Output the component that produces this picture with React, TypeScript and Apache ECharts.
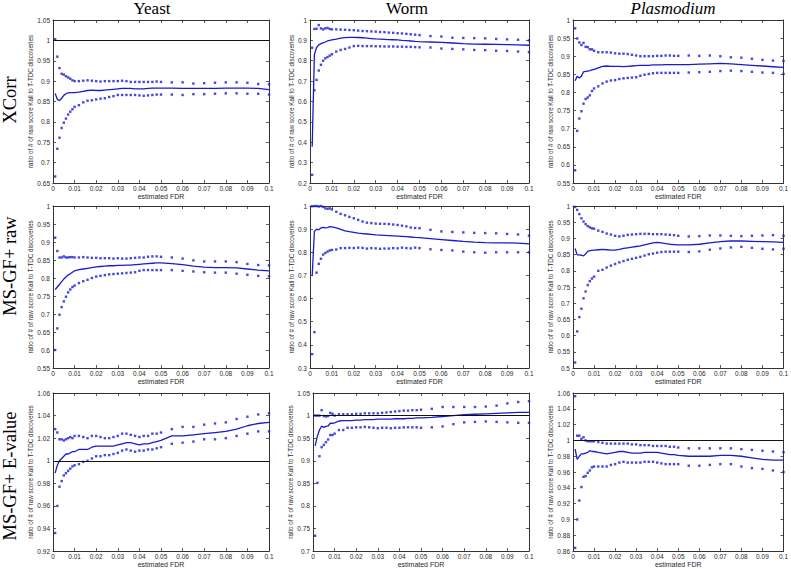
import React, { useEffect, useRef } from "react";
import * as echarts from "echarts";

// estimated FDR sample points (shared by all panels)
const fdr = [0.001,0.002,0.003,0.004,0.005,0.006,0.007,0.008,0.009,0.010,0.012,0.014,0.016,0.018,0.020,0.022,0.024,0.026,0.028,0.030,0.032,0.034,0.036,0.038,0.040,0.042,0.044,0.046,0.048,0.050,0.055,0.060,0.065,0.070,0.075,0.080,0.085,0.090,0.095,0.100];

const columnTitles = ["Yeast", "Worm", "Plasmodium"];
const rowTitles = ["XCorr", "MS-GF+ raw", "MS-GF+ E-value"];
const xTicks = { min: 0, max: 0.1, step: 0.01 };
const yAxisName = "ratio of # of raw score Kall to T-TDC discoveries";
const xAxisName = "estimated FDR";

// Yeast / XCorr
const yeastXcorrUpper = [1.003,0.960,0.932,0.918,0.916,0.912,0.909,0.906,0.902,0.900, 0.900,0.901,0.902,0.901,0.900,0.899,0.900,0.900,0.900,0.900,0.901,0.900,0.898,0.898,0.898,0.898,0.898,0.898,0.899,0.898, 0.897,0.897,0.894,0.895,0.896,0.897,0.897,0.896,0.893,0.892];
const yeastXcorrLower = [0.666,0.734,0.761,0.785,0.798,0.808,0.818,0.825,0.831,0.837, 0.841,0.848,0.852,0.853,0.855,0.857,0.858,0.861,0.863,0.866,0.866,0.866,0.866,0.866,0.865,0.864,0.865,0.866,0.867,0.867, 0.867,0.866,0.868,0.868,0.869,0.870,0.870,0.869,0.869,0.867];
const yeastXcorrMedian = [0.870,0.855,0.852,0.858,0.865,0.869,0.871,0.872,0.872,0.872, 0.873,0.875,0.877,0.878,0.877,0.877,0.878,0.879,0.880,0.881,0.882,0.882,0.882,0.881,0.881,0.881,0.882,0.883,0.883,0.883, 0.883,0.882,0.882,0.882,0.882,0.883,0.883,0.883,0.882,0.879];

// Worm / XCorr
const wormXcorrUpper = [0.864,0.956,0.957,0.975,0.959,0.954,0.959,0.961,0.956,0.954, 0.954,0.953,0.952,0.951,0.950,0.948,0.946,0.945,0.944,0.943,0.941,0.940,0.938,0.937,0.935,0.934,0.932,0.930,0.928,0.926, 0.921,0.919,0.913,0.912,0.911,0.910,0.907,0.905,0.903,0.900];
const wormXcorrLower = [0.240,0.655,0.706,0.752,0.780,0.800,0.812,0.818,0.825,0.832, 0.845,0.853,0.858,0.865,0.872,0.873,0.872,0.872,0.872,0.871,0.871,0.870,0.870,0.870,0.869,0.869,0.868,0.868,0.867,0.866, 0.865,0.860,0.858,0.856,0.853,0.852,0.849,0.848,0.845,0.842];
const wormXcorrMedian = [0.378,0.830,0.865,0.878,0.884,0.888,0.892,0.897,0.900,0.902, 0.906,0.911,0.913,0.915,0.915,0.914,0.913,0.911,0.909,0.907,0.906,0.905,0.904,0.903,0.902,0.900,0.899,0.897,0.895,0.894, 0.892,0.890,0.887,0.884,0.882,0.881,0.880,0.879,0.878,0.876];

// Plasmodium / XCorr
const plasXcorrUpper = [0.977,0.949,0.938,0.931,0.937,0.926,0.925,0.919,0.919,0.915, 0.911,0.911,0.911,0.910,0.908,0.907,0.907,0.906,0.904,0.902,0.900,0.900,0.900,0.900,0.901,0.901,0.902,0.902,0.901,0.901, 0.902,0.901,0.902,0.900,0.897,0.896,0.893,0.890,0.888,0.887];
const plasXcorrLower = [0.585,0.694,0.728,0.748,0.769,0.782,0.786,0.792,0.804,0.811, 0.817,0.825,0.830,0.833,0.834,0.837,0.839,0.840,0.841,0.842,0.846,0.849,0.851,0.853,0.854,0.854,0.854,0.854,0.854,0.854, 0.855,0.856,0.857,0.859,0.860,0.859,0.857,0.855,0.854,0.851];
const plasXcorrMedian = [0.832,0.845,0.840,0.845,0.857,0.858,0.859,0.860,0.862,0.864, 0.868,0.872,0.873,0.872,0.872,0.872,0.871,0.872,0.873,0.874,0.875,0.875,0.875,0.876,0.876,0.876,0.877,0.877,0.877,0.877, 0.877,0.878,0.879,0.880,0.879,0.877,0.875,0.873,0.871,0.869];

// Yeast / MS-GF+ raw
const yeastRawUpper = [0.912,0.875,0.857,0.857,0.860,0.857,0.857,0.858,0.858,0.857, 0.857,0.858,0.857,0.856,0.856,0.855,0.855,0.855,0.854,0.855,0.854,0.854,0.855,0.856,0.857,0.857,0.859,0.860,0.860,0.859, 0.857,0.854,0.849,0.846,0.846,0.846,0.844,0.839,0.836,0.835];
const yeastRawLower = [0.600,0.660,0.698,0.719,0.735,0.748,0.760,0.768,0.775,0.779, 0.786,0.791,0.795,0.800,0.804,0.806,0.808,0.810,0.811,0.812,0.813,0.814,0.815,0.816,0.820,0.822,0.822,0.822,0.822,0.822, 0.822,0.820,0.818,0.816,0.815,0.815,0.812,0.809,0.806,0.805];
const yeastRawMedian = [0.768,0.775,0.782,0.790,0.797,0.803,0.808,0.812,0.816,0.820, 0.823,0.825,0.827,0.829,0.831,0.832,0.833,0.834,0.834,0.835,0.835,0.836,0.836,0.837,0.838,0.839,0.840,0.841,0.842,0.842, 0.840,0.837,0.833,0.830,0.829,0.829,0.828,0.825,0.822,0.820];

// Worm / MS-GF+ raw
const wormRawUpper = [0.999,1.000,1.000,0.998,1.000,0.996,0.990,0.988,0.990,0.985, 0.975,0.966,0.960,0.953,0.947,0.940,0.933,0.928,0.926,0.924,0.923,0.923,0.922,0.920,0.918,0.915,0.912,0.907,0.905,0.904, 0.897,0.890,0.888,0.886,0.884,0.883,0.882,0.879,0.877,0.872];
const wormRawLower = [0.360,0.455,0.712,0.750,0.772,0.790,0.797,0.803,0.808,0.810, 0.812,0.818,0.818,0.819,0.818,0.820,0.819,0.816,0.818,0.817,0.815,0.816,0.816,0.818,0.817,0.820,0.818,0.817,0.820,0.818, 0.813,0.810,0.808,0.803,0.800,0.798,0.800,0.800,0.800,0.800];
const wormRawMedian = [0.698,0.890,0.900,0.897,0.905,0.908,0.905,0.907,0.911,0.910, 0.905,0.899,0.893,0.889,0.886,0.883,0.881,0.879,0.877,0.875,0.874,0.873,0.872,0.871,0.870,0.869,0.868,0.866,0.864,0.863, 0.859,0.855,0.851,0.847,0.844,0.842,0.841,0.841,0.840,0.836];

// Plasmodium / MS-GF+ raw
const plasRawUpper = [0.997,0.988,0.975,0.962,0.952,0.944,0.938,0.934,0.931,0.930, 0.924,0.920,0.915,0.912,0.908,0.906,0.908,0.911,0.912,0.913,0.914,0.914,0.914,0.913,0.913,0.913,0.912,0.911,0.910,0.908, 0.906,0.907,0.909,0.909,0.908,0.907,0.908,0.909,0.910,0.908];
const plasRawLower = [0.517,0.613,0.657,0.683,0.715,0.736,0.756,0.768,0.776,0.782, 0.800,0.803,0.810,0.816,0.821,0.826,0.830,0.834,0.837,0.840,0.843,0.847,0.851,0.853,0.856,0.858,0.859,0.859,0.859,0.859, 0.858,0.860,0.865,0.869,0.872,0.874,0.871,0.868,0.866,0.868];
const plasRawMedian = [0.869,0.849,0.849,0.848,0.846,0.852,0.860,0.862,0.863,0.864, 0.865,0.866,0.865,0.864,0.864,0.866,0.869,0.871,0.873,0.875,0.877,0.880,0.883,0.886,0.888,0.886,0.884,0.882,0.881,0.880, 0.880,0.882,0.886,0.890,0.892,0.892,0.891,0.890,0.889,0.888];

// Yeast / MS-GF+ E-value
const yeastEvUpper = [1.028,1.025,1.019,1.019,1.018,1.019,1.020,1.021,1.020,1.022, 1.022,1.021,1.020,1.022,1.022,1.021,1.020,1.020,1.021,1.022,1.024,1.024,1.023,1.022,1.021,1.022,1.022,1.024,1.024,1.025, 1.028,1.030,1.030,1.032,1.033,1.034,1.037,1.039,1.041,1.042];
const yeastEvLower = [0.936,0.960,0.977,0.982,0.987,0.989,0.991,0.993,0.995,0.996, 0.997,0.999,1.000,1.002,1.004,1.004,1.005,1.005,1.006,1.007,1.009,1.010,1.009,1.008,1.009,1.009,1.010,1.010,1.011,1.012, 1.015,1.016,1.017,1.019,1.019,1.020,1.022,1.024,1.026,1.026];
const yeastEvMedian = [0.989,0.996,1.000,1.002,1.004,1.006,1.006,1.007,1.008,1.008, 1.010,1.010,1.010,1.012,1.013,1.013,1.013,1.013,1.013,1.014,1.015,1.016,1.016,1.015,1.014,1.015,1.015,1.016,1.017,1.018, 1.022,1.022,1.023,1.024,1.025,1.026,1.028,1.031,1.033,1.034];

// Worm / MS-GF+ E-value
const wormEvUpper = [1.000,1.000,1.000,1.012,0.999,0.998,0.999,1.006,1.004,1.000, 1.003,1.003,1.003,1.003,1.004,1.004,1.005,1.005,1.005,1.005,1.006,1.007,1.008,1.009,1.010,1.011,1.011,1.012,1.012,1.013, 1.015,1.019,1.019,1.019,1.019,1.020,1.022,1.027,1.030,1.032];
const wormEvLower = [0.734,0.851,0.910,0.930,0.935,0.941,0.947,0.957,0.957,0.960, 0.968,0.968,0.973,0.973,0.974,0.974,0.975,0.974,0.973,0.972,0.973,0.973,0.972,0.973,0.973,0.974,0.974,0.974,0.974,0.973, 0.974,0.976,0.981,0.985,0.986,0.987,0.986,0.985,0.984,0.984];
const wormEvMedian = [0.933,0.954,0.968,0.977,0.974,0.976,0.977,0.983,0.983,0.984, 0.988,0.989,0.989,0.989,0.990,0.990,0.991,0.991,0.991,0.992,0.992,0.992,0.992,0.993,0.993,0.993,0.994,0.994,0.995,0.995, 0.996,0.998,1.000,1.002,1.003,1.004,1.005,1.006,1.007,1.007];

// Plasmodium / MS-GF+ E-value
const plasEvUpper = [1.056,1.006,1.006,1.002,1.004,1.000,0.999,0.999,0.999,0.999, 0.998,0.997,0.996,0.996,0.996,0.996,0.996,0.996,0.995,0.995,0.994,0.994,0.994,0.993,0.993,0.993,0.993,0.992,0.992,0.991, 0.990,0.990,0.990,0.990,0.990,0.989,0.988,0.987,0.986,0.985];
const plasEvLower = [0.864,0.900,0.924,0.941,0.954,0.955,0.959,0.962,0.966,0.967, 0.967,0.967,0.967,0.969,0.970,0.972,0.973,0.972,0.972,0.972,0.972,0.973,0.973,0.973,0.972,0.971,0.970,0.970,0.970,0.970, 0.968,0.968,0.969,0.970,0.970,0.967,0.965,0.964,0.962,0.960];
const plasEvMedian = [0.989,0.976,0.980,0.983,0.983,0.984,0.985,0.987,0.986,0.986, 0.985,0.984,0.983,0.984,0.985,0.986,0.986,0.985,0.984,0.984,0.984,0.985,0.985,0.985,0.985,0.984,0.983,0.982,0.982,0.981, 0.980,0.980,0.980,0.981,0.981,0.980,0.978,0.976,0.975,0.975];

// y axis ranges per panel: [min, max, interval]
const yRanges = [
  [0.65, 1.05, 0.05], [0.2, 1.0, 0.1], [0.55, 1.0, 0.05],
  [0.55, 1.0, 0.05], [0.3, 1.0, 0.1], [0.5, 1.0, 0.05],
  [0.92, 1.06, 0.02], [0.7, 1.05, 0.05], [0.86, 1.06, 0.02],
];
// panels with a reference line at ratio = 1
const refLinePanels = [0, 6, 7, 8];

const panelSeries = [
  [yeastXcorrUpper, yeastXcorrLower, yeastXcorrMedian],
  [wormXcorrUpper, wormXcorrLower, wormXcorrMedian],
  [plasXcorrUpper, plasXcorrLower, plasXcorrMedian],
  [yeastRawUpper, yeastRawLower, yeastRawMedian],
  [wormRawUpper, wormRawLower, wormRawMedian],
  [plasRawUpper, plasRawLower, plasRawMedian],
  [yeastEvUpper, yeastEvLower, yeastEvMedian],
  [wormEvUpper, wormEvLower, wormEvMedian],
  [plasEvUpper, plasEvLower, plasEvMedian],
];

// layout (pixels)
const colLeft = [[53, 310, 573], [53, 310, 573], [53, 313, 573]];
const colRight = [269, 529, 788];
const rowTop = [20, 206, 393];
const rowBottom = [183, 368, 553];
const yNameCenterX = [35, 295, 555.5];

const fmt = (v: number) => String(parseFloat(v.toFixed(4)));

const AXIS_COLOR = "#333";
const LABEL_FONT = "Liberation Sans, Arial, sans-serif";
const BLUE = "#1a1ad2";

export default function App() {
  const ref = useRef<HTMLDivElement>(null);
  useEffect(() => {
    if (!ref.current) return;
    const chart = echarts.init(ref.current, undefined, { renderer: "svg" });
    const grids: any[] = [];
    const xAxes: any[] = [];
    const yAxes: any[] = [];
    const series: any[] = [];
    for (let i = 0; i < 9; i++) {
      const r = Math.floor(i / 3);
      const c = i % 3;
      const left = colLeft[r][c];
      const right = colRight[c];
      const top = rowTop[r];
      const bottom = rowBottom[r];
      grids.push({ left, top, width: right - left, height: bottom - top, show: false });
      const [yMin, yMax, yStep] = yRanges[i];
      const baseAxis = {
        gridIndex: i,
        axisLine: { show: true, onZero: false, lineStyle: { color: AXIS_COLOR, width: 1 } },
        axisTick: { show: true, inside: true, length: 3, lineStyle: { color: AXIS_COLOR, width: 0.8 } },
        splitLine: { show: false },
      };
      const labelStyle = {
        fontSize: 6.5,
        color: "#2a2a2a",
        fontFamily: LABEL_FONT,
        formatter: fmt,
        hideOverlap: false,
      };
      xAxes.push({
        ...baseAxis,
        type: "value",
        position: "bottom",
        min: xTicks.min,
        max: xTicks.max,
        interval: xTicks.step,
        axisLabel: { ...labelStyle, margin: 2 },
        name: xAxisName,
        nameLocation: "middle",
        nameGap: 7.5,
        nameTextStyle: { fontSize: 7, color: "#2a2a2a", fontFamily: LABEL_FONT },
      });
      xAxes.push({
        ...baseAxis,
        type: "value",
        position: "top",
        min: xTicks.min,
        max: xTicks.max,
        interval: xTicks.step,
        axisLabel: { show: false },
      });
      yAxes.push({
        ...baseAxis,
        type: "value",
        position: "left",
        min: yMin,
        max: yMax,
        interval: yStep,
        axisLabel: { ...labelStyle, margin: 3 },
        name: yAxisName,
        nameLocation: "middle",
        nameGap: left - yNameCenterX[c] - 3.2,
        nameTextStyle: { fontSize: 6.3, color: "#2a2a2a", fontFamily: LABEL_FONT },
      });
      yAxes.push({
        ...baseAxis,
        type: "value",
        position: "right",
        min: yMin,
        max: yMax,
        interval: yStep,
        axisLabel: { show: false },
      });
      const [upper, lower, median] = panelSeries[i];
      const toPts = (arr: number[]) => fdr.map((x, k) => [x, arr[k]]);
      series.push({
        type: "line",
        xAxisIndex: 2 * i,
        yAxisIndex: 2 * i,
        data: toPts(median),
        showSymbol: false,
        lineStyle: { color: BLUE, width: 1.3 },
        itemStyle: { color: BLUE },
        markLine: refLinePanels.includes(i)
          ? {
              silent: true,
              symbol: "none",
              label: { show: false },
              lineStyle: { color: "#111", width: 1.1, type: "solid" },
              data: [{ yAxis: 1 }],
            }
          : undefined,
      });
      for (const arr of [upper, lower]) {
        series.push({
          type: "scatter",
          xAxisIndex: 2 * i,
          yAxisIndex: 2 * i,
          data: toPts(arr),
          symbol: "rect",
          symbolSize: 2.4,
          itemStyle: { color: BLUE },
        });
      }
    }
    const titleCenters = [152, 407, 673];
    const rowCenters = [100, 266, 476];
    const graphic: any[] = [];
    columnTitles.forEach((t, k) => {
      graphic.push({
        type: "text",
        x: titleCenters[k],
        y: 0,
        style: {
          text: t,
          fontSize: 17,
          fontFamily: "Liberation Serif, Times New Roman, serif",
          fontStyle: k === 2 ? "italic" : "normal",
          fill: "#000",
          align: "center",
          verticalAlign: "top",
        },
      });
    });
    rowTitles.forEach((t, k) => {
      graphic.push({
        type: "text",
        x: 10,
        y: rowCenters[k],
        rotation: Math.PI / 2,
        style: {
          text: t,
          fontSize: 18.5,
          fontFamily: "Liberation Serif, Times New Roman, serif",
          fill: "#000",
          align: "center",
          verticalAlign: "middle",
        },
      });
    });
    chart.setOption({
      animation: false,
      backgroundColor: "#fff",
      grid: grids,
      xAxis: xAxes,
      yAxis: yAxes,
      series,
      graphic,
    });
    return () => chart.dispose();
  }, []);
  return (
    <div
      ref={ref}
      style={{ position: "absolute", left: 0, top: 0, width: 791, height: 569 }}
    />
  );
}
